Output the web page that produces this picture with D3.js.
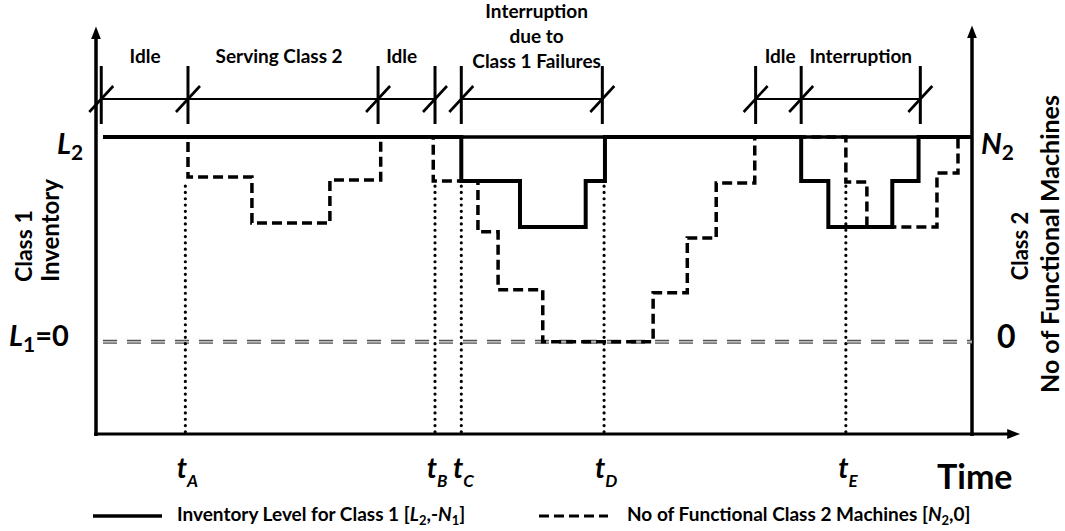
<!DOCTYPE html>
<html>
<head>
<meta charset="utf-8">
<script src="https://cdn.jsdelivr.net/npm/d3@7"></script>
<style>
  html, body { margin: 0; background: #fff; }
  svg { display: block; font-family: Lato, 'Open Sans', sans-serif; }
</style>
</head>
<body>
<div id="chart"></div>
<script>
// time runs 0..100 between the two vertical axes
// level: 0 = L1 / 0 machines, 100 = L2 / N2
const phaseTicks = [0.6, 10.5, 32.2, 38.7, 41.7, 57.8, 75.3, 80.5, 94.1];
const phaseSpans = [[0, 1], [1, 2], [2, 3], [4, 5], [6, 7], [7, 8]];
const phaseNames = [['Idle'], ['Serving Class 2'], ['Idle'],
  ['Interruption', 'due to', 'Class 1 Failures'], ['Idle'], ['Interruption']];
const phaseCenters = [5.6, 20.9, 34.9, 50.3, 78.1, 87.3];

const eventNames = ['A', 'B', 'C', 'D', 'E'];
const eventTimes = [10.2, 38.7, 41.7, 58.0, 85.6];

// stepAfter points [time, level]
const inventorySteps = [
  [0.8, 100], [41.7, 78.5], [48.4, 56], [55.9, 78.5], [58.1, 100],
  [80.5, 78.5], [83.6, 56], [90.9, 78.5], [93.9, 100], [100, 100],
];
const machineSteps = [
  [0.8, 100], [10.5, 80.5], [17.8, 58], [26.7, 79], [32.5, 100],
  [38.5, 78.5], [43.6, 53.7], [45.9, 25.4], [51.0, 0], [63.6, 23.9],
  [67.5, 50.7], [70.8, 77.6], [75.2, 100], [85.6, 78], [88.0, 56.1],
  [96.0, 82.4], [98.4, 100], [100, 100],
];

const LEVEL_TOP = 100, LEVEL_ZERO = 0, LEVEL_MIN = -45, LEVEL_AXIS_END = 154;
const TIME_AXIS_END = 105.5;

const W = 1065, H = 531;
const x = d3.scaleLinear().domain([0, 100]).range([96, 972]);
const y = d3.scaleLinear().domain([LEVEL_MIN, LEVEL_TOP]).range([434, 137]);

const svg = d3.select('#chart').append('svg')
  .attr('width', W).attr('height', H);

svg.append('defs').append('marker')
  .attr('id', 'arrow')
  .attr('viewBox', '0 -6 14 12')
  .attr('refX', 3).attr('refY', 0)
  .attr('markerWidth', 14).attr('markerHeight', 12)
  .attr('markerUnits', 'userSpaceOnUse')
  .attr('orient', 'auto')
  .append('path').attr('d', 'M0,-5L13,0L0,5Z').attr('fill', '#000');

// ── axes ──
const axisW = 3.5;
svg.append('line')
  .attr('x1', x(0)).attr('x2', x(0))
  .attr('y1', y(LEVEL_MIN) + 2).attr('y2', y(LEVEL_AXIS_END) + 10)
  .attr('stroke', '#000').attr('stroke-width', axisW).attr('marker-end', 'url(#arrow)');
svg.append('line')
  .attr('x1', x(100)).attr('x2', x(100))
  .attr('y1', y(LEVEL_MIN) + 2).attr('y2', y(LEVEL_AXIS_END) + 9)
  .attr('stroke', '#000').attr('stroke-width', axisW).attr('marker-end', 'url(#arrow)');
svg.append('line')
  .attr('x1', x(0) - 2).attr('x2', x(TIME_AXIS_END) - 10)
  .attr('y1', y(LEVEL_MIN)).attr('y2', y(LEVEL_MIN))
  .attr('stroke', '#000').attr('stroke-width', 3).attr('marker-end', 'url(#arrow)');

// ── reference levels ──
svg.append('line')
  .attr('x1', x(0.8)).attr('x2', x(100))
  .attr('y1', y(LEVEL_TOP)).attr('y2', y(LEVEL_TOP))
  .attr('stroke', '#000').attr('stroke-width', 3.5);

const zeroLine = svg.append('g');
zeroLine.append('line')
  .attr('x1', x(0.8)).attr('x2', x(100))
  .attr('y1', y(LEVEL_ZERO)).attr('y2', y(LEVEL_ZERO))
  .attr('stroke', '#555').attr('stroke-width', 4).attr('stroke-dasharray', '14,10');
zeroLine.append('line')
  .attr('x1', x(0.8)).attr('x2', x(100))
  .attr('y1', y(LEVEL_ZERO)).attr('y2', y(LEVEL_ZERO))
  .attr('stroke', '#ddd').attr('stroke-width', 1.2).attr('stroke-dasharray', '14,10');

// ── event markers (dotted) ──
svg.selectAll('.event')
  .data(eventTimes)
  .join('line')
  .attr('class', 'event')
  .attr('x1', d => x(d)).attr('x2', d => x(d))
  .attr('y1', y(76)).attr('y2', y(LEVEL_MIN) - 2)
  .attr('stroke', '#000').attr('stroke-width', 3.2)
  .attr('stroke-linecap', 'round').attr('stroke-dasharray', '0,6.3');

// ── step curves ──
const step = d3.line().x(d => x(d[0])).y(d => y(d[1])).curve(d3.curveStepAfter);

svg.append('path')
  .attr('d', step(machineSteps))
  .attr('fill', 'none').attr('stroke', '#000').attr('stroke-width', 3.5)
  .attr('stroke-dasharray', '10,5');

svg.append('path')
  .attr('d', step(inventorySteps))
  .attr('fill', 'none').attr('stroke', '#000').attr('stroke-width', 4);

// ── phase timeline on top ──
const TL_Y = 99;
const tl = svg.append('g');
tl.selectAll('.span')
  .data(phaseSpans)
  .join('line')
  .attr('x1', d => x(phaseTicks[d[0]])).attr('x2', d => x(phaseTicks[d[1]]))
  .attr('y1', TL_Y).attr('y2', TL_Y)
  .attr('stroke', '#000').attr('stroke-width', 2);
tl.selectAll('.tick')
  .data(phaseTicks)
  .join('line')
  .attr('x1', d => x(d)).attr('x2', d => x(d))
  .attr('y1', TL_Y - 33).attr('y2', TL_Y + 25)
  .attr('stroke', '#000').attr('stroke-width', 3);
tl.selectAll('.slash')
  .data(phaseTicks)
  .join('line')
  .attr('x1', d => x(d) - 12).attr('x2', d => x(d) + 12)
  .attr('y1', TL_Y + 13).attr('y2', TL_Y - 13)
  .attr('stroke', '#000').attr('stroke-width', 2.6);

phaseNames.forEach((lines, i) => {
  const t = tl.append('text')
    .attr('x', x(phaseCenters[i]))
    .attr('y', lines.length > 1 ? 18 : 63)
    .attr('text-anchor', 'middle')
    .attr('font-size', 19).attr('font-weight', 700);
  lines.forEach((s, j) => {
    t.append('tspan').attr('x', x(phaseCenters[i])).attr('dy', j ? 25 : 0).text(s);
  });
});

// ── event labels ──
svg.selectAll('.event-label')
  .data(eventNames)
  .join('text')
  .attr('class', 'event-label')
  .attr('x', (d, i) => x(eventTimes[i]) + 2)
  .attr('y', 478)
  .attr('text-anchor', 'middle')
  .attr('font-weight', 700).attr('font-style', 'italic')
  .each(function (d) {
    const t = d3.select(this);
    t.append('tspan').attr('font-size', 28).text('t');
    t.append('tspan').attr('font-size', 17).attr('dy', 9).text(d);
  });

svg.append('text')
  .attr('x', 937).attr('y', 489)
  .attr('font-size', 34).attr('font-weight', 700)
  .text('Time');

// ── level labels ──
function subLabel(xp, yp, main, sub, tail, size) {
  const t = svg.append('text')
    .attr('x', xp).attr('y', yp)
    .attr('font-weight', 700);
  t.append('tspan').attr('font-size', size).attr('font-style', 'italic').text(main);
  t.append('tspan').attr('font-size', size * 0.72).attr('dy', size * 0.22).text(sub);
  if (tail) t.append('tspan').attr('font-size', size).attr('dy', -size * 0.22).text(tail);
  return t;
}
subLabel(57, 154, 'L', '2', null, 29);
subLabel(9, 346, 'L', '1', '=0', 29);
subLabel(981, 154, 'N', '2', null, 29);
svg.append('text')
  .attr('x', 997).attr('y', 348)
  .attr('font-size', 32).attr('font-weight', 700)
  .text('0');

svg.append('text')
  .attr('transform', 'translate(32,282) rotate(-90)')
  .attr('font-size', 23).attr('font-weight', 700)
  .text('Class 1');
svg.append('text')
  .attr('transform', 'translate(59,282) rotate(-90)')
  .attr('font-size', 24).attr('font-weight', 700)
  .text('Inventory');
svg.append('text')
  .attr('transform', 'translate(1028,246) rotate(-90)')
  .attr('text-anchor', 'middle')
  .attr('font-size', 22).attr('font-weight', 700)
  .text('Class 2');
svg.append('text')
  .attr('transform', 'translate(1059,244) rotate(-90)')
  .attr('text-anchor', 'middle')
  .attr('font-size', 25).attr('font-weight', 700)
  .text('No of Functional Machines');

// ── legend ──
const legend = [
  { x0: 93, x1: 162, tx: 177, dash: null, parts: ['Inventory Level for Class 1 [', 'L', '2', ',-', 'N', '1', ']'] },
  { x0: 539, x1: 608, tx: 627, dash: '10,5', parts: ['No of Functional Class 2 Machines [', 'N', '2', ',0', '', '', ']'] },
];
legend.forEach(l => {
  svg.append('line')
    .attr('x1', l.x0).attr('x2', l.x1).attr('y1', 516).attr('y2', 516)
    .attr('stroke', '#000').attr('stroke-width', l.dash ? 3 : 3.5)
    .attr('stroke-dasharray', l.dash);
  const t = svg.append('text')
    .attr('x', l.tx).attr('y', 521)
    .attr('font-size', 19).attr('font-weight', 700);
  const p = l.parts;
  t.append('tspan').text(p[0]);
  t.append('tspan').attr('font-style', 'italic').text(p[1]);
  t.append('tspan').attr('font-size', 13).attr('dy', 4).text(p[2]);
  t.append('tspan').attr('dy', -4).text(p[3]);
  if (p[4]) {
    t.append('tspan').attr('font-style', 'italic').text(p[4]);
    t.append('tspan').attr('font-size', 13).attr('dy', 4).text(p[5]);
    t.append('tspan').attr('dy', -4).text(p[6]);
  } else {
    t.append('tspan').text(p[6]);
  }
});
</script>
</body>
</html>
